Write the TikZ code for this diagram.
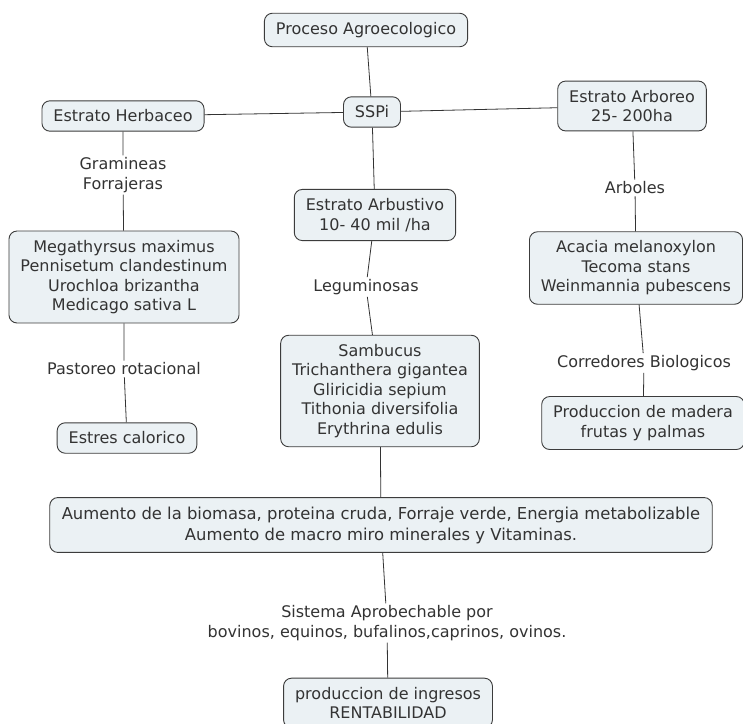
\documentclass[tikz,border=0pt]{standalone}
\usepackage{fontspec}
\setmainfont{DejaVu Sans}
\usepackage{tikz}
\definecolor{boxfill}{HTML}{EBF1F4}
\definecolor{boxline}{HTML}{3C3C3C}
\definecolor{inktext}{HTML}{333333}
\tikzset{
  concept/.style={draw=boxline, line width=0.9pt, fill=boxfill, rounded corners=8pt,
    align=center, inner xsep=11.5pt, inner ysep=9pt, text=inktext},
  linkword/.style={fill=white, align=center, inner sep=2pt, text=inktext},
  link/.style={draw=black!80, line width=0.8pt}
}

\begin{document}
\begin{tikzpicture}[x=1pt, y=-1pt, font=\fontsize{16}{19.5}\selectfont]
		%%%%% START %%%%%
		\useasboundingbox[fill=white] (0, 0) rectangle (743, 723);
		
		% central column
		\node[concept] (proceso) at (366, 30) {Proceso Agroecologico};
		\node[concept] (sspi) at (372, 112) {SSPi};
		\node[concept] (arbustivo) at (375, 215) {Estrato Arbustivo\\10- 40 mil /ha};
		\node[linkword] (leguminosas) at (366, 287) {Leguminosas};
		\node[concept] (sambucus) at (380, 391) {Sambucus\\Trichanthera gigantea\\Gliricidia sepium\\Tithonia diversifolia\\Erythrina edulis};
		
		% left column
		\node[concept] (herbaceo) at (123, 116) {Estrato Herbaceo};
		\node[linkword] (gramineas) at (123, 175) {Gramineas\\Forrajeras};
		\node[concept] (pastos) at (124, 277) {Megathyrsus maximus\\Pennisetum clandestinum\\Urochloa brizantha\\Medicago sativa L};
		\node[linkword] (pastoreo) at (124, 369) {Pastoreo rotacional};
		\node[concept] (estres) at (127, 438) {Estres calorico};
		
		% right column
		\node[concept] (arboreo) at (632, 106) {Estrato Arboreo\\25- 200ha};
		\node[linkword] (arboles) at (635, 188) {Arboles};
		\node[concept] (acacia) at (636, 268) {Acacia melanoxylon\\Tecoma stans\\Weinmannia pubescens};
		\node[linkword] (corredores) at (644, 363) {Corredores Biologicos};
		\node[concept] (madera) at (643, 423) {Produccion de madera\\frutas y palmas};
		
		% bottom
		\node[concept, font=\fontsize{16.4}{21}\selectfont, inner xsep=12pt] (aumento) at (381, 525) {Aumento de la biomasa, proteina cruda, Forraje verde, Energia metabolizable\\Aumento de macro miro minerales y Vitaminas.};
		\node[linkword] (sistema) at (387, 623) {Sistema Aprobechable por\\bovinos, equinos, bufalinos,caprinos, ovinos.};
		\node[concept] (ingresos) at (388, 703) {produccion de ingresos\\RENTABILIDAD};
		
		\draw[link] (proceso) -- (sspi);
		\draw[link] (herbaceo) -- (sspi);
		\draw[link] (sspi) -- (arboreo);
		\draw[link] (sspi) -- (arbustivo);
		\draw[link] (arbustivo) -- (leguminosas) -- (sambucus);
		\draw[link] (herbaceo) -- (gramineas) -- (pastos);
		\draw[link] (pastos) -- (pastoreo) -- (estres);
		\draw[link] (arboreo) -- (arboles) -- (acacia);
		\draw[link] (acacia) -- (corredores) -- (madera);
		\draw[link] (sambucus) -- (aumento);
		\draw[link] (aumento) -- (sistema) -- (ingresos);
		
		%%%%% END %%%%%
	\end{tikzpicture}
\end{document}
